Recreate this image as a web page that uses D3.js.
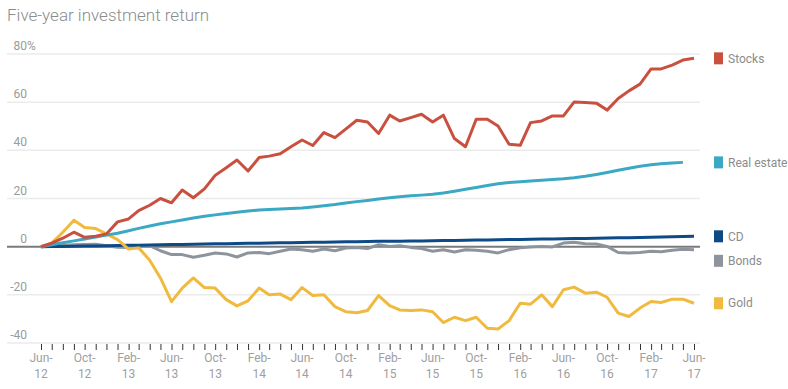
<!DOCTYPE html>
<html>
<head>
<meta charset="utf-8">
<script src="https://cdn.jsdelivr.net/npm/d3@7"></script>
<style>
  body { margin: 0; background: #fff; }
  svg { display: block; font-family: Roboto, 'Open Sans', sans-serif; }
</style>
</head>
<body>
<div id="chart"></div>
<script>
// chart values, one per month Jun-12 .. Jun-17 (percent return)
const seriesNames = ['Stocks', 'Real estate', 'CD', 'Bonds', 'Gold']
const seriesColors = ['#c9503f', '#3ba9c4', '#0e4a86', '#8d949c', '#f0ba3e']

const stocks = [0, 1.5, 3.5, 6, 3.9, 4.3, 5.3, 10.3, 11.5, 15, 17.2, 20, 18.2, 23.5, 20.3, 24, 29.6, 32.8, 36, 31.4,
  37, 37.6, 38.6, 41.5, 44.3, 42, 47.4, 45.3, 48.8, 52.5, 51.8, 47, 54.6, 52.2, 53.6, 55, 51.8, 54.6, 44.9, 41.5,
  52.9, 52.9, 50.1, 42.5, 42.1, 51.5, 52.2, 54.3, 54.3, 60.1, 59.9, 59.6, 56.7, 61.5, 64.7, 67.5, 73.8, 73.8, 75.4, 77.5, 78.2]

// real estate stops one month early (May-17)
const realEstate = [0, 0.8, 1.6, 2.4, 3.2, 4.0, 4.8, 5.6, 6.6, 7.6, 8.6, 9.5, 10.3, 11.1, 11.9, 12.6, 13.2, 13.8, 14.3, 14.8,
  15.2, 15.4, 15.6, 15.8, 16.1, 16.5, 17.0, 17.5, 18.1, 18.7, 19.2, 19.8, 20.3, 20.7, 21.1, 21.4, 21.8, 22.3, 23.0, 23.8,
  24.6, 25.4, 26.1, 26.6, 27.0, 27.3, 27.6, 27.9, 28.2, 28.6, 29.2, 30.0, 30.8, 31.7, 32.6, 33.4, 34.0, 34.4, 34.7, 35.0]

const cd = [0, 0.1, 0.1, 0.2, 0.3, 0.3, 0.4, 0.5, 0.6, 0.6, 0.7, 0.8, 0.9, 0.9, 1.0, 1.1, 1.2, 1.2, 1.3, 1.4,
  1.4, 1.5, 1.6, 1.6, 1.7, 1.8, 1.8, 1.9, 2.0, 2.0, 2.1, 2.2, 2.2, 2.3, 2.4, 2.4, 2.5, 2.6, 2.6, 2.7,
  2.8, 2.8, 2.9, 3.0, 3.0, 3.1, 3.2, 3.2, 3.3, 3.4, 3.4, 3.5, 3.6, 3.7, 3.7, 3.8, 3.9, 4.0, 4.1, 4.2, 4.3]

const bonds = [0, 0.3, 0.6, 0.8, 0.9, 1.0, 0.4, -0.2, -0.3, -0.1, 0.4, -1.7, -3.3, -3.3, -4.4, -3.6, -2.6, -3.0, -4.3, -2.6,
  -2.4, -2.9, -1.9, -1.0, -1.25, -1.9, -1.0, -1.7, -0.6, -0.3, -0.8, 0.8, 0.1, 0.4, -0.3, -0.8, -1.9, -1.3, -2.2, -1.25,
  -1.5, -1.9, -2.6, -1.25, -0.5, -0.1, 0.1, -0.1, 1.5, 1.8, 1.25, 1.1, 0.1, -2.4, -2.6, -2.4, -1.9, -2.1, -1.5, -1.1, -1.25]

const gold = [0, 1.5, 6, 11, 8, 7.5, 5.3, 2.9, -1, -0.5, -5.6, -13, -22.8, -17.2, -13, -17, -17.2, -22, -24.6, -22.5,
  -17.2, -20, -19.7, -22, -17, -20.3, -20, -24.9, -27, -27.4, -26.5, -20.3, -24.5, -26.25, -26.5, -26.25, -27, -31.5, -29.3, -30.7,
  -29.3, -33.9, -34.2, -30.7, -23.5, -23.9, -20, -24.9, -17.9, -16.8, -19.3, -18.9, -21, -27.6, -29, -25.5, -22.8, -23.2, -21.8, -21.8, -23.5]

const yTicks = [-40, -20, 0, 20, 40, 60, 80]
const xLabels = ['Jun-12', 'Oct-12', 'Feb-13', 'Jun-13', 'Oct-13', 'Feb-14', 'Jun-14', 'Oct-14', 'Feb-15',
  'Jun-15', 'Oct-15', 'Feb-16', 'Jun-16', 'Oct-16', 'Feb-17', 'Jun-17']

const seriesValues = [stocks, realEstate, cd, bonds, gold]

// months on the x axis
const months = d3.timeMonth.range(new Date(2012, 5, 1), new Date(2017, 6, 1))
const parseLabel = d3.timeParse('%b-%y')

const width = 788
const height = 389

const svg = d3.select('#chart')
  .append('svg')
  .attr('width', width)
  .attr('height', height)

const x = d3.scaleTime()
  .domain([months[0], months[months.length - 1]])
  .range([41, 694])

const y = d3.scaleLinear()
  .domain([-40, 80])
  .range([343, 54])

// title
svg.append('text')
  .attr('x', 7)
  .attr('y', 21)
  .style('font-size', '17px')
  .style('font-weight', 300)
  .attr('fill', '#8c8c8c')
  .text('Five-year investment return')

// gridlines + y labels
const grid = svg.append('g')
yTicks.forEach(t => {
  grid.append('line')
    .attr('x1', 7)
    .attr('x2', 700)
    .attr('y1', y(t))
    .attr('y2', y(t))
    .attr('stroke', t === 0 ? '#7a7a7a' : '#ebebeb')
    .attr('stroke-width', t === 0 ? 2 : 1.5)

  grid.append('text')
    .attr('x', 27)
    .attr('y', y(t) - 4)
    .attr('text-anchor', 'end')
    .style('font-size', '12px')
    .attr('fill', '#9a9a9a')
    .text(t)

  if (t === 80) {
    grid.append('text')
      .attr('x', 27)
      .attr('y', y(t) - 4)
      .style('font-size', '12px')
      .attr('fill', '#9a9a9a')
      .text('%')
  }
})

// monthly ticks
const xAxis = svg.append('g')
  .attr('transform', `translate(0,${y(-40) + 1})`)
  .call(d3.axisBottom(x).ticks(d3.timeMonth.every(1)).tickSize(6).tickFormat(''))

xAxis.select('.domain').remove()
xAxis.selectAll('.tick line').attr('stroke', '#333')

// two-line tick labels
xLabels.forEach(lbl => {
  const [mon, yr] = lbl.split('-')
  const t = svg.append('text')
    .attr('text-anchor', 'middle')
    .style('font-size', '12px')
    .attr('fill', '#a0a0a0')
  const cx = x(parseLabel(lbl))
  t.append('tspan').attr('x', cx).attr('y', 362).text(mon + '-')
  t.append('tspan').attr('x', cx).attr('y', 378).text(yr)
})

// lines
const line = d3.line()
  .x((d, i) => x(months[i]))
  .y(d => y(d))

const drawOrder = [3, 2, 4, 1, 0]
drawOrder.forEach(k => {
  svg.append('path')
    .datum(seriesValues[k])
    .attr('fill', 'none')
    .attr('stroke', seriesColors[k])
    .attr('stroke-width', 3)
    .attr('stroke-linejoin', 'round')
    .attr('d', line)
})

// legend at the line ends, pushed apart when too close
const legendItems = seriesNames.map((name, k) => ({
  name,
  color: seriesColors[k],
  ly: y(seriesValues[k][seriesValues[k].length - 1])
})).sort((a, b) => a.ly - b.ly)

for (let i = 1; i < legendItems.length; i++) {
  if (legendItems[i].ly - legendItems[i - 1].ly < 24.5) {
    legendItems[i].ly = legendItems[i - 1].ly + 24.5
  }
}

const legend = svg.append('g')
legendItems.forEach(d => {
  legend.append('rect')
    .attr('x', 714)
    .attr('y', d.ly - 6)
    .attr('width', 9)
    .attr('height', 12)
    .attr('fill', d.color)

  legend.append('text')
    .attr('x', 728)
    .attr('y', d.ly)
    .attr('dy', '0.35em')
    .style('font-size', '12px')
    .attr('fill', '#8c8c8c')
    .text(d.name)
})
</script>
</body>
</html>
